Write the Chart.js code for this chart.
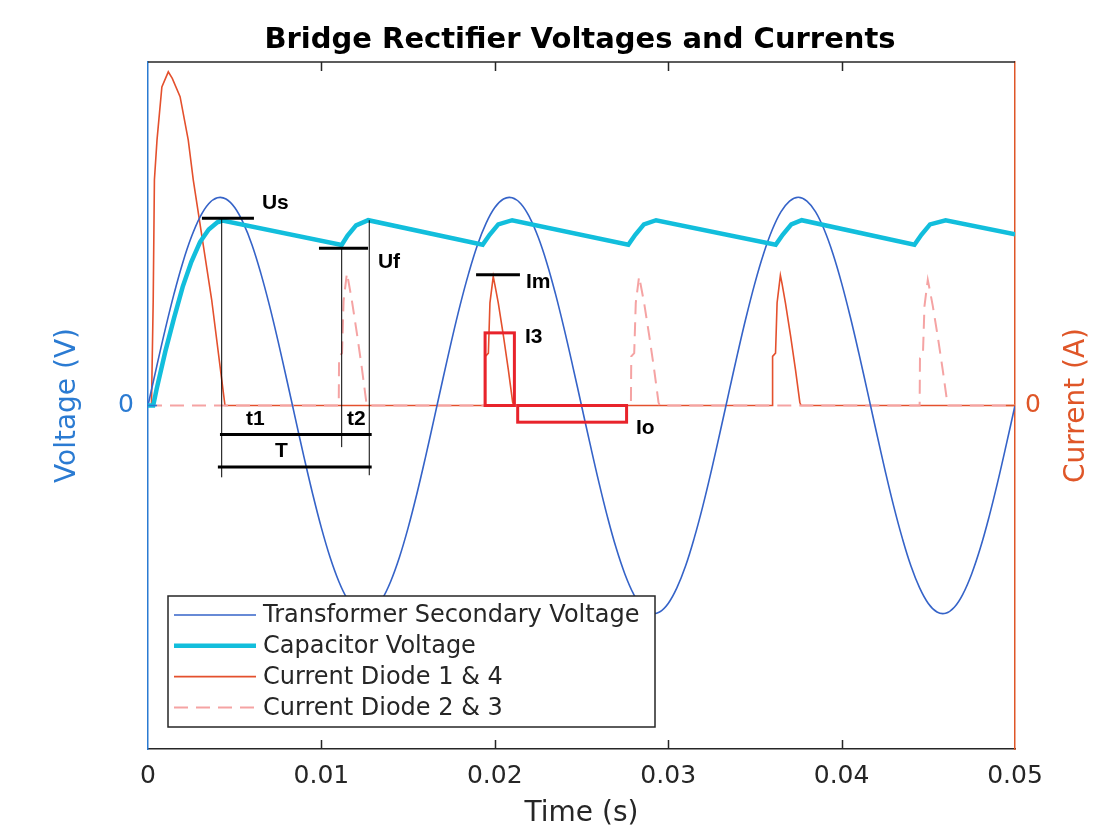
<!DOCTYPE html>
<html><head><meta charset="utf-8">
<script src="https://cdn.jsdelivr.net/npm/chart.js@4"></script>
<style>html,body{margin:0;padding:0;background:#fff}</style>
</head><body>
<canvas id="c" width="1120" height="840"></canvas>
<script>
// ---------- data ----------
const seriesNames = ['Transformer Secondary Voltage','Capacitor Voltage','Current Diode 1 & 4','Current Diode 2 & 3'];
const xTickValues = [0,0.01,0.02,0.03,0.04,0.05];
const xTickLabels = ['0','0.01','0.02','0.03','0.04','0.05'];
const voltTickValues = [0];
const voltTickLabels = ['0'];
const currTickValues = [0];
const currTickLabels = ['0'];

const secTime = [
 0,0.0005,0.001,0.0015,0.002,0.0025,0.003,0.0035,0.004,0.0045,
 0.005,0.0055,0.006,0.0065,0.007,0.0075,0.008,0.0085,0.009,0.0095,
 0.01,0.0105,0.011,0.0115,0.012,0.0125,0.013,0.0135,0.014,0.0145,
 0.015,0.0155,0.016,0.0165,0.017,0.0175,0.018,0.0185,0.019,0.0195,
 0.02,0.0205,0.021,0.0215,0.022,0.0225,0.023,0.0235,0.024,0.0245,
 0.025,0.0255,0.026,0.0265,0.027,0.0275,0.028,0.0285,0.029,0.0295,
 0.03,0.0305,0.031,0.0315,0.032,0.0325,0.033,0.0335,0.034,0.0345,
 0.035,0.0355,0.036,0.0365,0.037,0.0375,0.038,0.0385,0.039,0.0395,
 0.04,0.0405,0.041,0.0415,0.042,0.0425,0.043,0.0435,0.044,0.0445,
 0.045,0.0455,0.046,0.0465,0.047,0.0475,0.048,0.0485,0.049,0.0495,
 0.05];
const secVolt = [
 0,1.87,3.68,5.36,6.85,8.09,9.05,9.69,9.98,9.92,
 9.51,8.76,7.71,6.37,4.82,3.09,1.25,-0.63,-2.49,-4.26,
 -5.88,-7.29,-8.44,-9.30,-9.82,-10.0,-9.82,-9.30,-8.44,-7.29,
 -5.88,-4.26,-2.49,-0.63,1.25,3.09,4.82,6.37,7.71,8.76,
 9.51,9.92,9.98,9.69,9.05,8.09,6.85,5.36,3.68,1.87,
 0,-1.87,-3.68,-5.36,-6.85,-8.09,-9.05,-9.69,-9.98,-9.92,
 -9.51,-8.76,-7.71,-6.37,-4.82,-3.09,-1.25,0.63,2.49,4.26,
 5.88,7.29,8.44,9.30,9.82,10.0,9.82,9.30,8.44,7.29,
 5.88,4.26,2.49,0.63,-1.25,-3.09,-4.82,-6.37,-7.71,-8.76,
 -9.51,-9.92,-9.98,-9.69,-9.05,-8.09,-6.85,-5.36,-3.68,-1.87,
 0];

const capTime = [0,0.0003,0.0005,0.001,0.0015,0.002,0.0025,0.003,0.0035,0.004,0.0043,
 0.01117,0.0115,0.012,0.0127,
 0.0193,0.0197,0.0202,0.0210,
 0.0277,0.0281,0.0286,0.0293,
 0.0362,0.0366,0.0371,0.0377,
 0.0442,0.0446,0.0451,0.0460,
 0.05];
const capVolt = [0,0,0.8,2.6,4.2,5.7,6.9,7.85,8.45,8.8,8.88,
 7.71,8.15,8.65,8.9,
 7.72,8.2,8.7,8.9,
 7.72,8.2,8.7,8.9,
 7.72,8.2,8.7,8.9,
 7.72,8.2,8.7,8.9,
 8.22];

const d14Time = [0,0.0002,0.0003,0.00037,0.00052,0.0008,0.00117,0.0014,0.00185,0.00232,0.00261,0.00367,0.00425,0.00444,
 0.01944,0.01946,0.01963,0.01972,0.01991,0.02,0.0202,0.0205,0.02078,0.02103,0.0211,
 0.036,0.03602,0.03619,0.03628,0.03647,0.03656,0.03676,0.03706,0.03734,0.03759,0.03766,
 0.05];
const d14Curr = [0,0,1.6,3.45,4.06,4.87,5.1,5.0,4.72,4.06,3.45,1.62,0.4,0,
 0,0.75,0.8,1.57,1.97,1.85,1.57,1.06,0.55,0.05,0,
 0,0.75,0.8,1.57,1.99,1.87,1.57,1.06,0.55,0.05,0,
 0];

const d23Time = [0,
 0.011,0.01102,0.01119,0.01128,0.01147,0.01156,0.01176,0.01206,0.01234,0.01259,0.01266,
 0.02785,0.02787,0.02804,0.02813,0.02832,0.02841,0.02861,0.02891,0.02919,0.02944,0.02951,
 0.0445,0.04452,0.04469,0.04478,0.04497,0.04506,0.04526,0.04556,0.04584,0.04609,0.04616,
 0.05];
const d23Curr = [0,
 0,0.75,0.8,1.6,2.02,1.9,1.6,1.08,0.56,0.05,0,
 0,0.75,0.8,1.57,1.97,1.85,1.57,1.06,0.55,0.05,0,
 0,0.72,0.78,1.52,1.92,1.8,1.52,1.03,0.53,0.05,0,
 0];

// annotation layer (data units)
const annoSegs = [
 {axis:'yV', t0:0.00311, v0:8.99, t1:0.00611, v1:8.99, w:3},
 {axis:'yV', t0:0.00986, v0:7.55, t1:0.01269, v1:7.55, w:3},
 {axis:'yV', t0:0.00425, v0:8.99, t1:0.00425, v1:-3.45, w:1},
 {axis:'yV', t0:0.01117, v0:7.55, t1:0.01117, v1:-2.0, w:1},
 {axis:'yV', t0:0.01276, v0:8.9, t1:0.01276, v1:-3.35, w:1},
 {axis:'yV', t0:0.00415, v0:-1.39, t1:0.0129, v1:-1.39, w:3},
 {axis:'yV', t0:0.00403, v0:-2.95, t1:0.0129, v1:-2.95, w:3},
 {axis:'yI', t0:0.01892, v0:2.0, t1:0.02145, v1:2.0, w:3}
];
const annoLabels = [
 {text:'Us', axis:'yV', t:0.00657, v:9.71},
 {text:'Uf', axis:'yV', t:0.01326, v:6.88},
 {text:'t1', axis:'yV', t:0.00565, v:-0.67},
 {text:'t2', axis:'yV', t:0.01148, v:-0.67},
 {text:'T',  axis:'yV', t:0.00732, v:-2.21},
 {text:'Im', axis:'yI', t:0.0218, v:1.89},
 {text:'I3', axis:'yI', t:0.02174, v:1.05},
 {text:'Io', axis:'yI', t:0.02814, v:-0.35}
];
const annoRects = [
 {axis:'yI', t0:0.01944, v0:0, t1:0.02113, v1:1.11},
 {axis:'yI', t0:0.02132, v0:0, t1:0.0276, v1:-0.255}
];

// ---------- styling ----------
const FONT = 'DejaVu Sans';
const BLUE_AX = '#2b7bd2';
const ORANGE_AX = '#df5628';
const DARK = '#262626';

const toXY = (ts, vs) => ts.map((t, i) => ({x: t, y: vs[i]}));

const overlay = {
  id: 'overlay',
  afterDatasetsDraw(chart) {
    const ctx = chart.ctx, ca = chart.chartArea;
    const xs = chart.scales.x;
    ctx.save();
    ctx.strokeStyle = DARK; ctx.lineWidth = 1.5;
    ctx.beginPath(); ctx.moveTo(ca.left, ca.top); ctx.lineTo(ca.right, ca.top); ctx.stroke();
    xTickValues.forEach(v => {
      const px = Math.round(xs.getPixelForValue(v)) + 0.5;
      if (px < ca.left + 3 || px > ca.right - 3) return;
      ctx.beginPath();
      ctx.moveTo(px, ca.bottom); ctx.lineTo(px, ca.bottom - 9);
      ctx.moveTo(px, ca.top); ctx.lineTo(px, ca.top + 9);
      ctx.stroke();
    });
    const yv = chart.scales.yV, yi = chart.scales.yI;
    voltTickValues.forEach(v => {
      const py = yv.getPixelForValue(v);
      ctx.strokeStyle = BLUE_AX; ctx.beginPath(); ctx.moveTo(ca.left, py); ctx.lineTo(ca.left + 9, py); ctx.stroke();
    });
    currTickValues.forEach(v => {
      const py = yi.getPixelForValue(v);
      ctx.strokeStyle = ORANGE_AX; ctx.beginPath(); ctx.moveTo(ca.right, py); ctx.lineTo(ca.right - 9, py); ctx.stroke();
    });
    ctx.strokeStyle = '#000';
    annoSegs.forEach(s => {
      const ys = chart.scales[s.axis];
      ctx.lineWidth = s.w;
      ctx.beginPath();
      ctx.moveTo(xs.getPixelForValue(s.t0), ys.getPixelForValue(s.v0));
      ctx.lineTo(xs.getPixelForValue(s.t1), ys.getPixelForValue(s.v1));
      ctx.stroke();
    });
    ctx.strokeStyle = '#e8232b'; ctx.lineWidth = 3;
    annoRects.forEach(r => {
      const ys = chart.scales[r.axis];
      const x0 = xs.getPixelForValue(r.t0), x1 = xs.getPixelForValue(r.t1);
      const y0 = ys.getPixelForValue(r.v0), y1 = ys.getPixelForValue(r.v1);
      ctx.strokeRect(Math.min(x0,x1), Math.min(y0,y1), Math.abs(x1-x0), Math.abs(y1-y0));
    });
    ctx.fillStyle = '#000';
    ctx.font = 'bold 21px "Liberation Sans", Arial, sans-serif';
    ctx.textAlign = 'left'; ctx.textBaseline = 'middle';
    annoLabels.forEach(l => {
      const ys = chart.scales[l.axis];
      ctx.fillText(l.text, xs.getPixelForValue(l.t), ys.getPixelForValue(l.v));
    });
    ctx.restore();
  },
  afterDraw(chart) {
    const ctx = chart.ctx, ca = chart.chartArea;
    ctx.save();
    const bx = ca.left + 20, by = ca.bottom - 153, bw = 487, bh = 131;
    ctx.fillStyle = '#fff'; ctx.fillRect(bx, by, bw, bh);
    ctx.strokeStyle = DARK; ctx.lineWidth = 1.5; ctx.strokeRect(bx, by, bw, bh);
    ctx.font = '24px "' + FONT + '"';
    ctx.textAlign = 'left'; ctx.textBaseline = 'middle';
    seriesNames.forEach((name, i) => {
      const ds = chart.data.datasets.find(d => d.label === name);
      const ry = by + 19 + i * 30.8;
      ctx.strokeStyle = ds.borderColor; ctx.lineWidth = ds.borderWidth;
      ctx.setLineDash(ds.borderDash || []);
      ctx.beginPath(); ctx.moveTo(bx + 6, ry); ctx.lineTo(bx + 88, ry); ctx.stroke();
      ctx.setLineDash([]);
      ctx.fillStyle = DARK;
      ctx.fillText(name, bx + 95, ry + 1);
    });
    ctx.fillStyle = '#000';
    ctx.font = 'bold 29px "' + FONT + '"';
    ctx.textAlign = 'center'; ctx.textBaseline = 'middle';
    ctx.fillText('Bridge Rectifier Voltages and Currents', 580, 40);
    ctx.save();
    ctx.translate(1077, (ca.top + ca.bottom) / 2);
    ctx.rotate(-Math.PI / 2);
    ctx.fillStyle = ORANGE_AX;
    ctx.font = '28px "' + FONT + '"';
    ctx.fillText('Current (A)', 0, 0);
    ctx.restore();
    ctx.restore();
  }
};

new Chart(document.getElementById('c'), {
  type: 'line',
  data: {
    datasets: [
      {label: seriesNames[1], data: toXY(capTime, capVolt), yAxisID: 'yV', borderColor: '#12bedc', borderWidth: 4.5, tension: 0, order: 0},
      {label: seriesNames[0], data: toXY(secTime, secVolt), yAxisID: 'yV', borderColor: '#3563c8', borderWidth: 1.6, tension: 0.4, order: 1},
      {label: seriesNames[3], data: toXY(d23Time, d23Curr), yAxisID: 'yI', borderColor: '#f5a3a3', borderWidth: 2, borderDash: [14, 8], tension: 0, order: 2},
      {label: seriesNames[2], data: toXY(d14Time, d14Curr), yAxisID: 'yI', borderColor: '#e4502d', borderWidth: 1.6, tension: 0, order: 3}
    ]
  },
  options: {
    responsive: false, animation: false, devicePixelRatio: 1,
    layout: {padding: {top: 62, left: 0, right: 0, bottom: 0}},
    elements: {point: {radius: 0}},
    plugins: {legend: {display: false}, tooltip: {enabled: false}, title: {display: false}},
    scales: {
      x: {
        type: 'linear', position: 'bottom', min: 0, max: 0.05,
        afterBuildTicks: s => { s.ticks = xTickValues.map(v => ({value: v})); },
        ticks: {callback: (v, i) => xTickLabels[i], font: {family: FONT, size: 25}, color: DARK, padding: 12, maxRotation: 0, autoSkip: false},
        grid: {drawOnChartArea: false, drawTicks: false},
        border: {color: DARK, width: 1.5},
        title: {display: true, text: 'Time (s)', font: {family: FONT, size: 28}, color: DARK, padding: {top: 0, bottom: 9}},
        afterFit: s => { s.height = 91; }
      },
      yV: {
        type: 'linear', position: 'left', min: -16.5, max: 16.5,
        afterBuildTicks: s => { s.ticks = voltTickValues.map(v => ({value: v})); },
        ticks: {callback: (v, i) => voltTickLabels[i], font: {family: FONT, size: 25}, color: BLUE_AX, padding: 14},
        grid: {drawOnChartArea: false, drawTicks: false},
        border: {color: BLUE_AX, width: 1.5},
        title: {display: true, text: 'Voltage (V)', font: {family: FONT, size: 28}, color: BLUE_AX, padding: {top: 51, bottom: 0}},
        afterFit: s => { s.width = 148; }
      },
      yI: {
        type: 'linear', position: 'right', min: -5.25, max: 5.25,
        afterBuildTicks: s => { s.ticks = currTickValues.map(v => ({value: v})); },
        ticks: {callback: (v, i) => currTickLabels[i], font: {family: FONT, size: 25}, color: ORANGE_AX, padding: 10},
        grid: {drawOnChartArea: false, drawTicks: false},
        border: {color: ORANGE_AX, width: 1.5},
        title: {display: false},
        afterFit: s => { s.width = 105; }
      }
    }
  },
  plugins: [overlay]
});
</script>
</body></html>
